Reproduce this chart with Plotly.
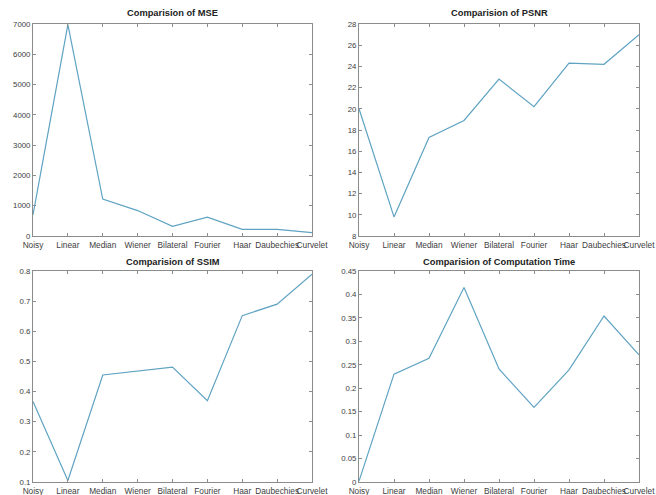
import plotly.graph_objects as go

methods = ["Noisy", "Linear", "Median", "Wiener", "Bilateral", "Fourier", "Haar", "Daubechies", "Curvelet"]
mse = [700, 6980, 1220, 840, 320, 620, 220, 220, 110]
psnr = [20.0, 9.8, 17.3, 18.9, 22.8, 20.2, 24.3, 24.2, 27.0]
ssim = [0.367, 0.105, 0.455, 0.467, 0.481, 0.370, 0.652, 0.690, 0.789]
comp_time = [0.002, 0.230, 0.264, 0.415, 0.241, 0.159, 0.239, 0.354, 0.271]

titles = ["Comparision of MSE", "Comparision of PSNR", "Comparision of SSIM", "Comparision of Computation Time"]
series = [mse, psnr, ssim, comp_time]
yranges = [[0, 7000], [8, 28], [0.1, 0.8], [0, 0.45]]
ytickvals = [
    [0, 1000, 2000, 3000, 4000, 5000, 6000, 7000],
    [8, 10, 12, 14, 16, 18, 20, 22, 24, 26, 28],
    [0.1, 0.2, 0.3, 0.4, 0.5, 0.6, 0.7, 0.8],
    [0, 0.05, 0.1, 0.15, 0.2, 0.25, 0.3, 0.35, 0.4, 0.45],
]
yticktext = [
    ["0", "1000", "2000", "3000", "4000", "5000", "6000", "7000"],
    ["8", "10", "12", "14", "16", "18", "20", "22", "24", "26", "28"],
    ["0.1", "0.2", "0.3", "0.4", "0.5", "0.6", "0.7", "0.8"],
    ["0", "0.05", "0.1", "0.15", "0.2", "0.25", "0.3", "0.35", "0.4", "0.45"],
]

W, H = 656, 495


def px_x(a, b):
    return [a / W, b / W]


def px_y(top, bottom):
    return [1 - bottom / H, 1 - top / H]


xdom = [px_x(33, 312), px_x(359, 639), px_x(33, 312), px_x(359, 639)]
ydom = [px_y(24, 236), px_y(24, 236), px_y(271, 482), px_y(271, 482)]
title_y = [13, 13, 262, 262]

fig = go.Figure()
xs = list(range(1, len(methods) + 1))
axis_color = "#8c8c8c"
text_color = "#404040"
layout = {}
annotations = []
for i in range(4):
    n = "" if i == 0 else str(i + 1)
    fig.add_trace(go.Scatter(
        x=xs, y=series[i], mode="lines",
        line=dict(color="#5fa3c2", width=1.2),
        xaxis="x" + n, yaxis="y" + n, showlegend=False,
    ))
    layout["xaxis" + n] = dict(
        domain=xdom[i], anchor="y" + n, range=[1, 9], automargin=False,
        tickmode="array", tickvals=xs, ticktext=methods, tickangle=0,
        ticks="inside", ticklen=3, tickcolor=axis_color,
        showline=True, linecolor=axis_color, linewidth=1, mirror="ticks",
        showgrid=False, zeroline=False, fixedrange=True,
        tickfont=dict(family="Liberation Sans, Arial", size=8.3, color=text_color),
        ticklabelstandoff=1,
    )
    layout["yaxis" + n] = dict(
        domain=ydom[i], anchor="x" + n, range=yranges[i], automargin=False,
        tickmode="array", tickvals=ytickvals[i], ticktext=yticktext[i],
        ticks="inside", ticklen=3, tickcolor=axis_color,
        showline=True, linecolor=axis_color, linewidth=1, mirror="ticks",
        showgrid=False, zeroline=False, fixedrange=True,
        tickfont=dict(family="Liberation Sans, Arial", size=7.8, color=text_color),
    )
    annotations.append(dict(
        text="<b>" + titles[i] + "</b>", xref="paper", yref="paper",
        x=(xdom[i][0] + xdom[i][1]) / 2, y=1 - title_y[i] / H,
        xanchor="center", yanchor="middle", showarrow=False,
        font=dict(family="Liberation Sans, Arial", size=9.3, color="#222222"),
    ))

fig.update_layout(
    width=W, height=H,
    margin=dict(l=0, r=0, t=0, b=0, autoexpand=False),
    paper_bgcolor="white", plot_bgcolor="white",
    annotations=annotations,
    **layout,
)
fig.write_html(
    "out.html",
    config={"displayModeBar": False},
    post_script="document.body.style.margin='0';document.body.style.overflow='hidden';",
)
